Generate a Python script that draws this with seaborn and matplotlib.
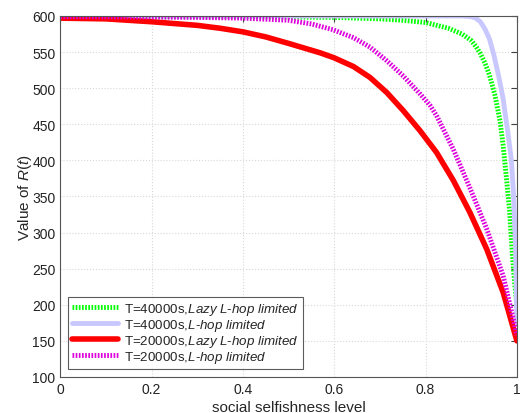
import numpy as np
import pandas as pd
import matplotlib
matplotlib.use('Agg')
import matplotlib.pyplot as plt
import seaborn as sns

# T=40000s, Lazy L-hop limited
x_g = [0, 0.2, 0.4, 0.6, 0.7, 0.75, 0.8, 0.85, 0.88, 0.9, 0.91, 0.92, 0.93, 0.94, 0.952, 0.963, 0.97, 0.978, 0.984, 0.99, 0.995, 1.0]
y_g = [599, 599, 599, 598, 596, 594, 591, 583, 575, 566, 558, 548, 535, 518, 490, 455, 420, 370, 330, 270, 230, 200]
# T=40000s, L-hop limited
x_b = [0, 0.2, 0.4, 0.6, 0.8, 0.88, 0.9, 0.91, 0.92, 0.93, 0.94, 0.95, 0.96, 0.97, 0.975, 0.98, 0.988, 0.993, 0.997, 1.0]
y_b = [600, 600, 600, 600, 600, 600, 599, 597, 592, 582, 568, 545, 517, 485, 462, 440, 400, 350, 280, 175]
# T=20000s, Lazy L-hop limited
x_r = [0, 0.1, 0.2, 0.3, 0.35, 0.4, 0.45, 0.5, 0.569, 0.6, 0.642, 0.678, 0.715, 0.751, 0.788, 0.824, 0.861, 0.897, 0.934, 0.97, 1.0]
y_r = [597, 596, 592, 587, 583, 578, 571, 562, 549, 542, 530, 515, 494, 469, 441, 411, 372, 328, 277, 217, 150]
# T=20000s, L-hop limited
x_m = [0, 0.2, 0.3, 0.4, 0.5, 0.55, 0.597, 0.642, 0.678, 0.715, 0.751, 0.788, 0.81, 0.824, 0.861, 0.897, 0.934, 0.97, 0.99, 1.0]
y_m = [599, 598.5, 598, 597, 594, 589, 581, 570, 557, 538, 517, 492, 476, 462, 415, 362, 305, 240, 186, 158]

labels = ['T=40000s,$\\mathit{Lazy\\ L}$-$\\mathit{hop\\ limited}$',
          'T=40000s,$\\mathit{L}$-$\\mathit{hop\\ limited}$',
          'T=20000s,$\\mathit{Lazy\\ L}$-$\\mathit{hop\\ limited}$',
          'T=20000s,$\\mathit{L}$-$\\mathit{hop\\ limited}$']

sns.set_style('white')
plt.rcParams['font.family'] = ['Liberation Sans', 'DejaVu Sans']
plt.rcParams['mathtext.fontset'] = 'custom'
plt.rcParams['mathtext.rm'] = 'Liberation Sans'
plt.rcParams['mathtext.it'] = 'Liberation Sans:italic'

fig = plt.figure(figsize=(5.2, 4.14), dpi=100)
ax = fig.add_axes([0.116, 0.087, 0.878, 0.872])

series = [
    (x_g, y_g, '#00ff00', 3.5, (0, (0.35, 0.3))),
    (x_b, y_b, '#c8c8ff', 3.5, '-'),
    (x_r, y_r, '#ff0000', 4.0, '-'),
    (x_m, y_m, '#dd00dd', 3.5, (0, (0.35, 0.3))),
]
for (xs, ys, c, lw, ls), lab in zip(series, labels):
    df = pd.DataFrame({'x': xs, 'y': ys})
    sns.lineplot(data=df, x='x', y='y', ax=ax, color=c, linewidth=lw,
                 linestyle=ls, label=lab)

ax.set_xlim(0, 1)
ax.set_ylim(100, 600)
ax.set_xticks(np.arange(0, 1.01, 0.2))
ax.set_xticklabels(['0', '0.2', '0.4', '0.6', '0.8', '1'])
ax.set_yticks(np.arange(100, 601, 50))
ax.grid(True, color='#d8d8d8', linestyle=':', linewidth=0.8)
ax.tick_params(direction='in', top=True, right=True, length=4, labelsize=10,
               color='#404040', labelcolor='#222222')
for s in ax.spines.values():
    s.set_color('#555555')
    s.set_linewidth(0.8)
ax.set_xlabel('social selfishness level', fontsize=11, labelpad=3)
ax.set_ylabel('Value of $\\mathit{R(t)}$', fontsize=11)
ax.yaxis.set_label_coords(-0.058, 0.5)

leg = ax.legend(loc='lower left', bbox_to_anchor=(0.0175, 0.022), borderaxespad=0,
                fontsize=9.6, frameon=True, fancybox=False, handlelength=3.4,
                handletextpad=0.5, labelspacing=0.0, borderpad=0.3)
leg.get_frame().set_edgecolor('#333333')
leg.get_frame().set_linewidth(0.8)

fig.savefig('out.png', dpi=100)
